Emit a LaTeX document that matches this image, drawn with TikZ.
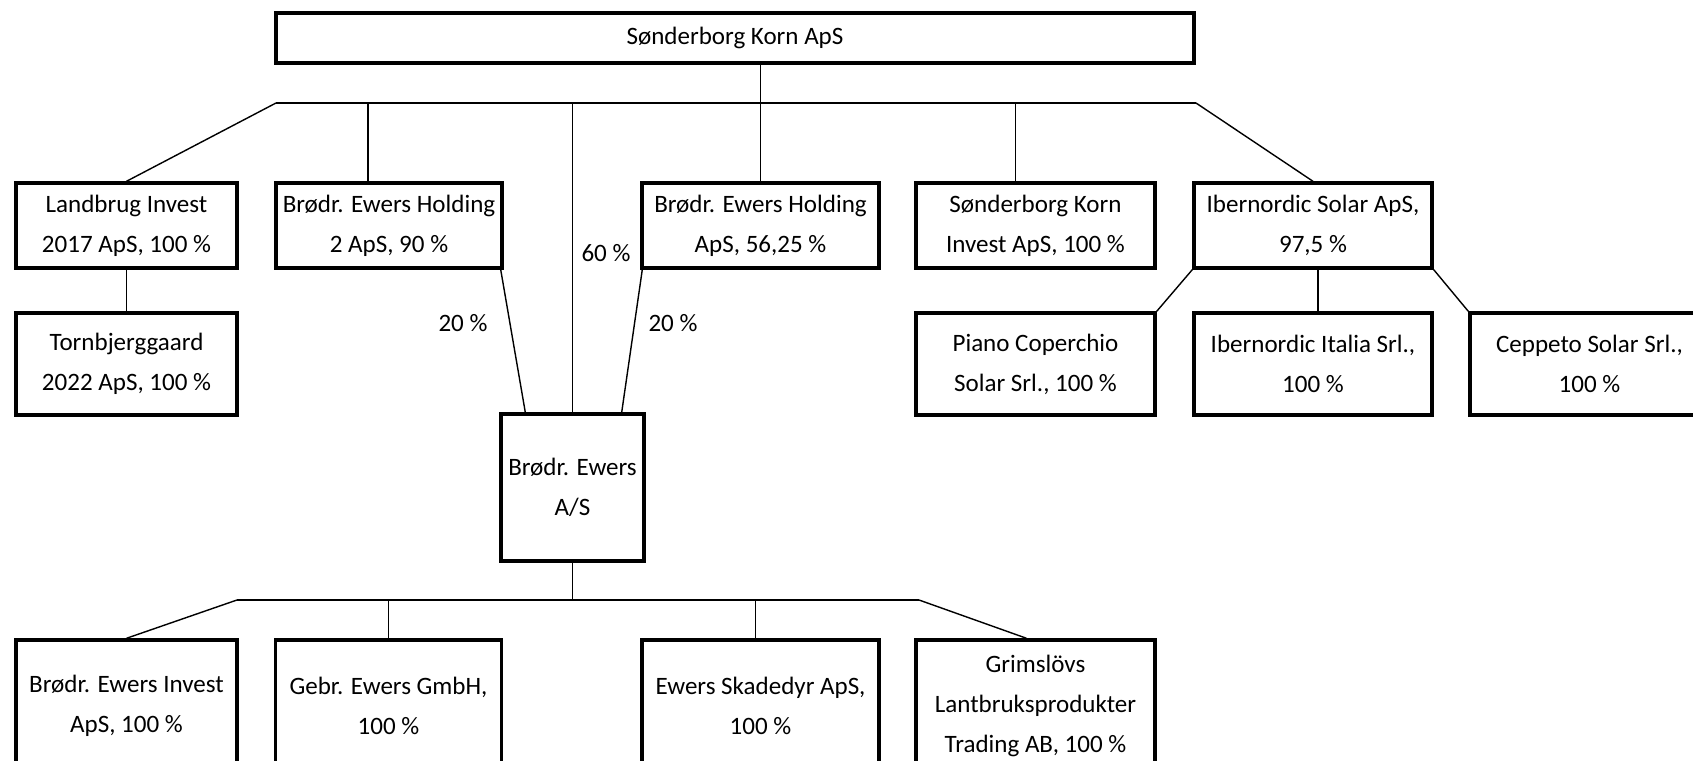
\documentclass[tikz,border=0pt]{standalone}
\usepackage{fontspec}
\setmainfont{Carlito}
\usetikzlibrary{calc}

\begin{document}
\begin{tikzpicture}[x=0.025cm, y=-0.025cm,
    every node/.style={font=\fontsize{17.8pt}{28.4pt}\selectfont, inner sep=2pt},
    box/.style={draw, line width=2.4pt, align=center},
    link/.style={line width=1pt}]

      \path[use as bounding box] (0,0) rectangle (1693,761);
      \clip (0,0) rectangle (1693,761);

      \node[box, minimum width=22.95cm, minimum height=1.25cm] (sk) at (735,38) {Sønderborg Korn ApS};

      % first row
      \node[box, minimum width=5.525cm, minimum height=2.125cm] (landbrug) at (126.5,225.5) {Landbrug Invest\\2017 ApS, 100 \%};
      \node[box, minimum width=5.65cm, minimum height=2.125cm] (holdingtwo) at (389,225.5) {Brødr. Ewers Holding\\2 ApS, 90 \%};
      \node[box, minimum width=5.925cm, minimum height=2.125cm] (holding) at (760.5,225.5) {Brødr. Ewers Holding\\ApS, 56,25 \%};
      \node[box, minimum width=5.975cm, minimum height=2.125cm] (skinvest) at (1035.5,225.5) {Sønderborg Korn\\Invest ApS, 100 \%};
      \node[box, minimum width=5.95cm, minimum height=2.125cm] (ibsolar) at (1313,225.5) {Ibernordic Solar ApS,\\97,5 \%};

      % second row
      \node[box, minimum width=5.525cm, minimum height=2.55cm] (tornbjerg) at (126.5,364) {Tornbjerggaard\\2022 ApS, 100 \%};
      \node[box, minimum width=5.975cm, minimum height=2.55cm] (piano) at (1035.5,364) {Piano Coperchio\\Solar Srl., 100 \%};
      \node[box, minimum width=5.95cm, minimum height=2.55cm] (ibitalia) at (1313,364) {Ibernordic Italia Srl.,\\100 \%};
      \node[box, minimum width=5.975cm, minimum height=2.55cm] (ceppeto) at (1589.5,364) {Ceppeto Solar Srl.,\\100 \%};

      \node[box, minimum width=3.575cm, minimum height=3.675cm] (ewers) at (572.5,487.5) {Brødr. Ewers\\A/S};

      % bottom row, cut off by the page edge
      \node[box, minimum width=5.525cm, minimum height=3.3cm] (bei) at (126.5,706) {Brødr. Ewers Invest\\ApS, 100 \%};
      \node[box, minimum width=5.65cm, minimum height=3.3cm] (gebr) at (388.5,706) {Gebr. Ewers GmbH,\\100 \%};
      \node[box, minimum width=5.925cm, minimum height=3.3cm] (skadedyr) at (760.5,706) {Ewers Skadedyr ApS,\\100 \%};
      \node[box, minimum width=5.975cm, minimum height=3.3cm] (grims) at (1035.5,706) {Grimslövs\\Lantbruksprodukter\\Trading AB, 100 \%};

      % shares held in A/S
      \node (pct60) at (606,253) {60 \%};
      \node (pct20a) at (463,323) {20 \%};
      \node (pct20b) at (673,323) {20 \%};

      \coordinate (busl) at (276,103);
      \coordinate (busr) at (1196,103);
      \coordinate (h2top) at ($(holdingtwo.north)+(-21,0)$);
      \coordinate (skitop) at ($(skinvest.north)+(-20,0)$);

      \draw[link] (busl) -- (busr);
      \draw[link] (holding.north) -- (holding.north |- sk.south);
      \draw[link] (busl) -- (landbrug.north);
      \draw[link] (busr) -- (ibsolar.north);
      \foreach \t in {h2top, skitop, ewers.north} {
        \draw[link] (\t) -- (\t |- busl);
      }

      \draw[link] (landbrug.south) -- (tornbjerg.north);
      \draw[link] ($(holdingtwo.south east)+(-3,0)$) -- ($(ewers.north west)+(26,0)$);
      \draw[link] ($(holding.south west)+(2,0)$) -- ($(ewers.north east)+(-24,0)$);

      \draw[link] (ibsolar.south west) -- (piano.north east);
      \draw[link] ($(ibsolar.south)+(5,0)$) -- ($(ibitalia.north)+(5,0)$);
      \draw[link] (ibsolar.south east) -- (ceppeto.north west);

      % bus under A/S
      \coordinate (bbusl) at (237,600);
      \coordinate (bbusr) at (919,600);
      \coordinate (skdtop) at ($(skadedyr.north)+(-5,0)$);

      \draw[link] (ewers.south) -- (ewers.south |- bbusl);
      \draw[link] (bbusl) -- (bbusr);
      \draw[link] (bbusl) -- (bei.north);
      \draw[link] (gebr.north) -- (gebr.north |- bbusl);
      \draw[link] (skdtop) -- (skdtop |- bbusl);
      \draw[link] (bbusr) -- ($(grims.north)+(-9,0)$);

    \end{tikzpicture}
\end{document}
